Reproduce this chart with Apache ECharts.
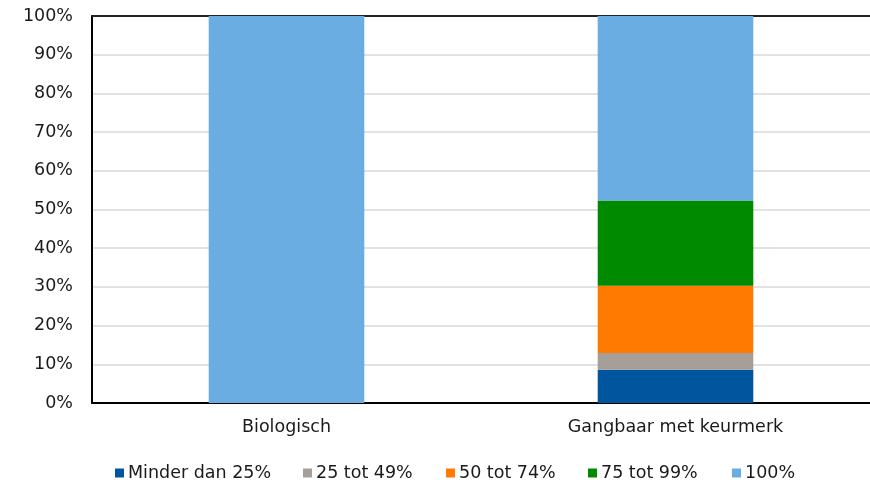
<!DOCTYPE html>
<html>
<head>
<meta charset="utf-8">
<script src="https://cdn.jsdelivr.net/npm/echarts@6/dist/echarts.min.js"></script>
<style>
  * { margin: 0; padding: 0; }
  #chart { width: 870px; height: 480px; background: #fff; }
</style>
</head>
<body>
<div id="chart"></div>
<script>
// categories on the x axis
const categories = ["Biologisch", "Gangbaar met keurmerk"];
// share per class (%)
const seriesNames = ["Minder dan 25%", "25 tot 49%", "50 tot 74%", "75 tot 99%", "100%"];
const minder25 = [0, 8.6];
const tot49 = [0, 4.3];
const tot74 = [0, 17.4];
const tot99 = [0, 22.0];
const honderd = [100, 47.7];
const colors = ["#00559f", "#a59e99", "#ff7a00", "#008a00", "#6aade3"];

const allData = [minder25, tot49, tot74, tot99, honderd];
const font = "DejaVu Sans, Verdana, sans-serif";
// left edge of each legend box (marker sits 5px further right)
const legendLeft = [110, 298, 441, 583, 727];

const chart = echarts.init(document.getElementById("chart"));
const option = {
  animation: false,
  textStyle: { fontFamily: font },
  grid: { left: 92, width: 781, top: 16, bottom: 77 },
  // one legend per item so the spacing follows the original
  legend: seriesNames.map((name, i) => ({
    data: [name],
    left: legendLeft[i],
    top: 459,
    itemWidth: 9,
    itemHeight: 9,
    icon: "rect",
    textStyle: { fontFamily: font, fontSize: 17.5, color: "#1a1a1a", padding: [0, 0, 0, -1] },
  })),
  xAxis: [
    {
      type: "category",
      data: categories,
      axisLine: { lineStyle: { color: "#000", width: 2 } },
      axisTick: { show: false },
      axisLabel: { fontSize: 17.5, color: "#1a1a1a", margin: 15 },
    },
    {
      // top border line of the plot
      type: "category",
      position: "top",
      data: categories,
      axisLine: { show: true, lineStyle: { color: "#222", width: 2 } },
      axisTick: { show: false },
      axisLabel: { show: false },
    },
  ],
  yAxis: {
    type: "value",
    min: 0,
    max: 100,
    interval: 10,
    axisLine: { show: true, lineStyle: { color: "#000", width: 2 } },
    axisTick: { show: false },
    axisLabel: { formatter: "{value}%", fontSize: 17.5, color: "#1a1a1a", margin: 19 },
    splitLine: { lineStyle: { color: "#d9d9d9", width: 1.5 } },
  },
  series: seriesNames.map((name, i) => ({
    name: name,
    type: "bar",
    stack: "total",
    barWidth: "40%",
    itemStyle: { color: colors[i] },
    data: allData[i],
  })),
};
chart.setOption(option);
</script>
</body>
</html>
